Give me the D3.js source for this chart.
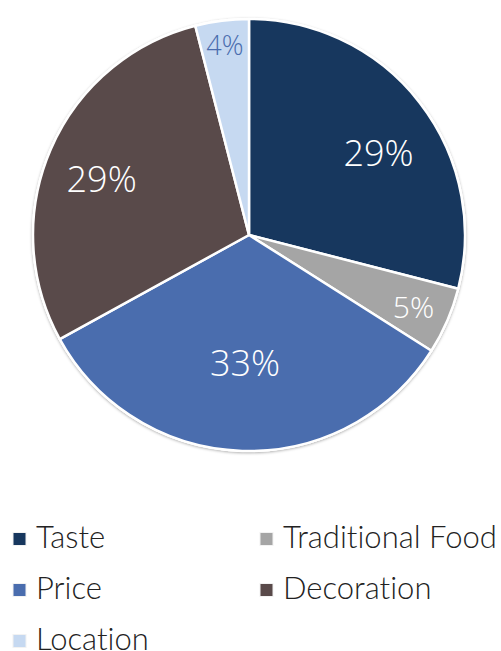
<!DOCTYPE html>
<html>
<head>
<meta charset="utf-8">
<script src="https://cdn.jsdelivr.net/npm/d3@7/dist/d3.min.js"></script>
<style>
  html, body { margin: 0; padding: 0; background: #fff; }
  svg { display: block; }
  text { font-family: "Open Sans", "Noto Sans", sans-serif; font-weight: 300; }
  text.legend-label { font-family: Lato, "Open Sans", sans-serif; font-weight: 300; font-variant-ligatures: none; font-feature-settings: "liga" 0, "clig" 0; }
</style>
</head>
<body>
<svg id="chart" width="501" height="651"></svg>
<script>
// Survey shares by factor
const categories = ["Taste", "Traditional Food", "Price", "Decoration", "Location"];
const values = [29, 5, 33, 29, 4];
const colors = ["#17375E", "#A5A5A5", "#4A6DAE", "#594A4A", "#C6D9F1"];
const labelColors = ["#ffffff", "#ffffff", "#ffffff", "#ffffff", "#4A6DAE"];

const svg = d3.select("#chart");
const cx = 249, cy = 235, R = 216;

const defs = svg.append("defs");
const f = defs.append("filter").attr("id", "shadow")
  .attr("x", "-10%").attr("y", "-10%").attr("width", "120%").attr("height", "120%");
f.append("feDropShadow").attr("dx", 0).attr("dy", 1).attr("stdDeviation", 1.6)
  .attr("flood-color", "#000").attr("flood-opacity", 0.35);

const data = categories.map((c, i) => ({ name: c, value: values[i], color: colors[i], labelColor: labelColors[i] }));

const pie = d3.pie().value(d => d.value).sort(null);
const arcs = pie(data);
const arc = d3.arc().innerRadius(0).outerRadius(R);

const g = svg.append("g").attr("transform", `translate(${cx},${cy})`);

g.append("circle").attr("r", R + 1).attr("fill", "#fff").attr("filter", "url(#shadow)");

g.selectAll("path.slice").data(arcs).join("path")
  .attr("class", "slice")
  .attr("d", arc)
  .attr("fill", d => d.data.color)
  .attr("stroke", "#fff")
  .attr("stroke-width", 2.5)
  .attr("stroke-linejoin", "round");

// Label placement: radial fraction and angular nudge (radians) per slice
const labelLayout = {
  "Taste": { r: 0.71, da: 0.094, size: 36 },
  "Traditional Food": { r: 0.83, da: 0, size: 30 },
  "Price": { r: 0.59, da: 0, size: 36 },
  "Decoration": { r: 0.73, da: -0.045, size: 36 },
  "Location": { r: 0.89, da: 0, size: 27 }
};

g.selectAll("text.lbl").data(arcs).join("text")
  .attr("class", "lbl")
  .each(function (d) {
    const L = labelLayout[d.data.name];
    const a = (d.startAngle + d.endAngle) / 2 + L.da;
    const r = R * L.r;
    d3.select(this)
      .attr("x", r * Math.sin(a))
      .attr("y", -r * Math.cos(a))
      .attr("font-size", L.size);
  })
  .attr("text-anchor", "middle")
  .attr("dominant-baseline", "central")
  .attr("fill", d => d.data.labelColor)
  .text(d => d.data.value + "%");

// Legend: two columns
const legendX = [12, 259], legendY0 = 539, legendDy = 51;
const leg = svg.append("g").selectAll("g").data(data).join("g")
  .attr("transform", (d, i) => `translate(${legendX[i % 2]},${legendY0 + Math.floor(i / 2) * legendDy})`);
leg.append("rect").attr("x", 1).attr("y", -6.5).attr("width", 13).attr("height", 13)
  .attr("fill", d => d.color).attr("stroke", "#f2f2f2").attr("stroke-width", 1);
leg.append("text").attr("class", "legend-label").attr("x", 24).attr("y", 9)
  .attr("font-size", 31)
  .attr("fill", "#222")
  .text(d => d.name);
</script>
</body>
</html>
